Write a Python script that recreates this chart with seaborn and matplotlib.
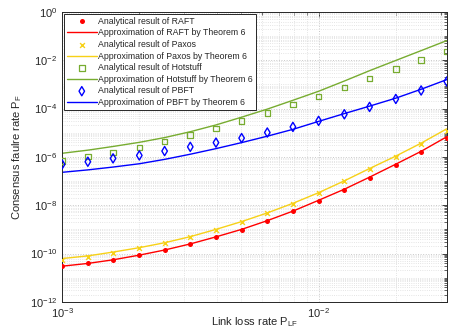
import numpy as np
import pandas as pd
import matplotlib
matplotlib.use('Agg')
import matplotlib.pyplot as plt
import matplotlib.ticker as mticker
import seaborn as sns

# link loss rate P_LF (log spaced, 10 points per decade)
link_loss = [0.001, 0.00126, 0.00158, 0.002, 0.00251, 0.00316, 0.00398, 0.00501,
             0.00631, 0.00794, 0.01, 0.0126, 0.0158, 0.02, 0.0251, 0.0316]

raft_analytical = [3.0e-11, 3.9e-11, 5.5e-11, 8.5e-11, 1.38e-10, 2.45e-10, 4.8e-10, 9.8e-10,
                   2.24e-9, 5.6e-9, 1.55e-8, 4.4e-8, 1.38e-7, 4.8e-7, 1.58e-6, 5.9e-6]
raft_approx = [3.0e-11, 3.9e-11, 5.5e-11, 8.6e-11, 1.4e-10, 2.5e-10, 4.9e-10, 1.0e-9,
               2.3e-9, 5.7e-9, 1.6e-8, 4.6e-8, 1.45e-7, 5.0e-7, 1.7e-6, 6.8e-6]
paxos_analytical = [5.2e-11, 7.2e-11, 1.07e-10, 1.66e-10, 2.7e-10, 4.9e-10, 9.8e-10, 2.04e-9,
                    4.6e-9, 1.15e-8, 3.2e-8, 9.8e-8, 3.2e-7, 1.02e-6, 3.4e-6, 1.2e-5]
paxos_approx = [6.2e-11, 8.0e-11, 1.15e-10, 1.75e-10, 2.8e-10, 5.0e-10, 1.0e-9, 2.1e-9,
                4.8e-9, 1.2e-8, 3.3e-8, 1.02e-7, 3.3e-7, 1.08e-6, 3.7e-6, 1.45e-5]
hotstuff_analytical = [6.8e-7, 1.02e-6, 1.55e-6, 2.45e-6, 4.4e-6, 7.9e-6, 1.5e-5, 3.0e-5,
                       6.6e-5, 1.45e-4, 3.2e-4, 7.6e-4, 1.78e-3, 4.3e-3, 1.0e-2, 2.3e-2]
hotstuff_approx = [1.41e-6, 1.9e-6, 2.7e-6, 4.0e-6, 6.3e-6, 1.1e-5, 2.1e-5, 4.4e-5,
                   9.5e-5, 2.2e-4, 5.2e-4, 1.38e-3, 3.7e-3, 9.8e-3, 2.5e-2, 6.5e-2]
pbft_analytical = [4.9e-7, 6.3e-7, 8.7e-7, 1.15e-6, 1.74e-6, 2.6e-6, 3.9e-6, 6.0e-6,
                   1.02e-5, 1.74e-5, 3.1e-5, 5.8e-5, 1.17e-4, 2.5e-4, 5.6e-4, 1.32e-3]
pbft_approx = [2.3e-7, 2.9e-7, 3.8e-7, 5.2e-7, 7.9e-7, 1.29e-6, 2.2e-6, 3.9e-6,
               7.2e-6, 1.38e-5, 2.95e-5, 6.2e-5, 1.26e-4, 2.7e-4, 6.3e-4, 1.58e-3]

protocols = ['RAFT', 'Paxos', 'Hotstuff', 'PBFT']
colours = {'RAFT': '#ff0000', 'Paxos': '#f7d117', 'Hotstuff': '#77ac30', 'PBFT': '#0000ff'}
analytical = {'RAFT': raft_analytical, 'Paxos': paxos_analytical,
              'Hotstuff': hotstuff_analytical, 'PBFT': pbft_analytical}
approx = {'RAFT': raft_approx, 'Paxos': paxos_approx,
          'Hotstuff': hotstuff_approx, 'PBFT': pbft_approx}
marker_style = {
    'RAFT': dict(marker='o', s=13, linewidth=0),
    'Paxos': dict(marker='x', s=12, linewidth=1.0),
    'Hotstuff': dict(marker='s', s=16, facecolor='none', linewidth=0.9),
    'PBFT': dict(marker='d', s=22, facecolor='none', linewidth=1.0),
}

sns.set_style('white')
plt.rcParams['font.family'] = ['Liberation Sans', 'DejaVu Sans']
plt.rcParams['mathtext.fontset'] = 'custom'
plt.rcParams['mathtext.rm'] = 'Liberation Sans'

fig = plt.figure(figsize=(4.5, 3.31), dpi=100)
ax = fig.add_axes([0.138, 0.088, 0.855, 0.876])

handles = []
labels = []
for p in protocols:
    df_a = pd.DataFrame({'x': link_loss, 'y': analytical[p]})
    df_l = pd.DataFrame({'x': link_loss, 'y': approx[p]})
    st = dict(marker_style[p])
    fc = st.pop('facecolor', colours[p])
    sc = ax.scatter(df_a['x'], df_a['y'], facecolors=fc,
                    edgecolors=colours[p], zorder=3, **st)
    sns.lineplot(data=df_l, x='x', y='y', color=colours[p], linewidth=1.0,
                 ax=ax, zorder=2)
    handles.append(sc)
    labels.append(f'Analytical result of {p}')
    handles.append(ax.lines[-1])
    labels.append(f'Approximation of {p} by Theorem 6')

ax.set_xscale('log')
ax.set_yscale('log')
ax.set_xlim(1e-3, 10 ** -1.5)
ax.set_ylim(1e-12, 1e0)

ax.yaxis.set_major_locator(mticker.FixedLocator([1e-12, 1e-10, 1e-8, 1e-6, 1e-4, 1e-2, 1e0]))
ax.yaxis.set_minor_locator(mticker.LogLocator(base=10, subs=np.arange(1, 10), numticks=100))
ax.yaxis.set_major_formatter(mticker.LogFormatterSciNotation())
ax.yaxis.set_minor_formatter(mticker.NullFormatter())
ax.xaxis.set_major_locator(mticker.FixedLocator([1e-3, 1e-2]))
ax.xaxis.set_minor_locator(mticker.LogLocator(base=10, subs=np.arange(1, 10), numticks=100))
ax.xaxis.set_major_formatter(mticker.LogFormatterSciNotation())
ax.xaxis.set_minor_formatter(mticker.NullFormatter())

ax.grid(True, which='major', color='#c8c8c8', linestyle=':', linewidth=0.7)
ax.grid(True, which='minor', color='#dcdcdc', linestyle=':', linewidth=0.6)
ax.set_axisbelow(True)

ax.tick_params(which='both', direction='in', top=True, right=True,
               colors='#262626', labelsize=8)
ax.tick_params(which='major', length=3.5, width=0.6)
ax.tick_params(which='minor', length=2, width=0.5)
ax.tick_params(axis='x', which='major', pad=3)
for sp in ax.spines.values():
    sp.set_color('#262626')
    sp.set_linewidth(0.7)

ax.set_xlabel(r'Link loss rate P$_{\mathregular{LF}}$', fontsize=8, color='#262626', labelpad=-3)
ax.set_ylabel(r'Consensus faulre rate P$_{\mathregular{F}}$', fontsize=8, color='#262626', labelpad=4)

leg = ax.legend(handles, labels, loc='upper left', fontsize=6.3, frameon=True,
                fancybox=False, edgecolor='#262626', framealpha=1,
                borderaxespad=0.25, labelspacing=0.3, handlelength=3.4,
                handletextpad=0.2, borderpad=0.3)
leg.get_frame().set_linewidth(0.7)

fig.savefig('out.png', dpi=100)
